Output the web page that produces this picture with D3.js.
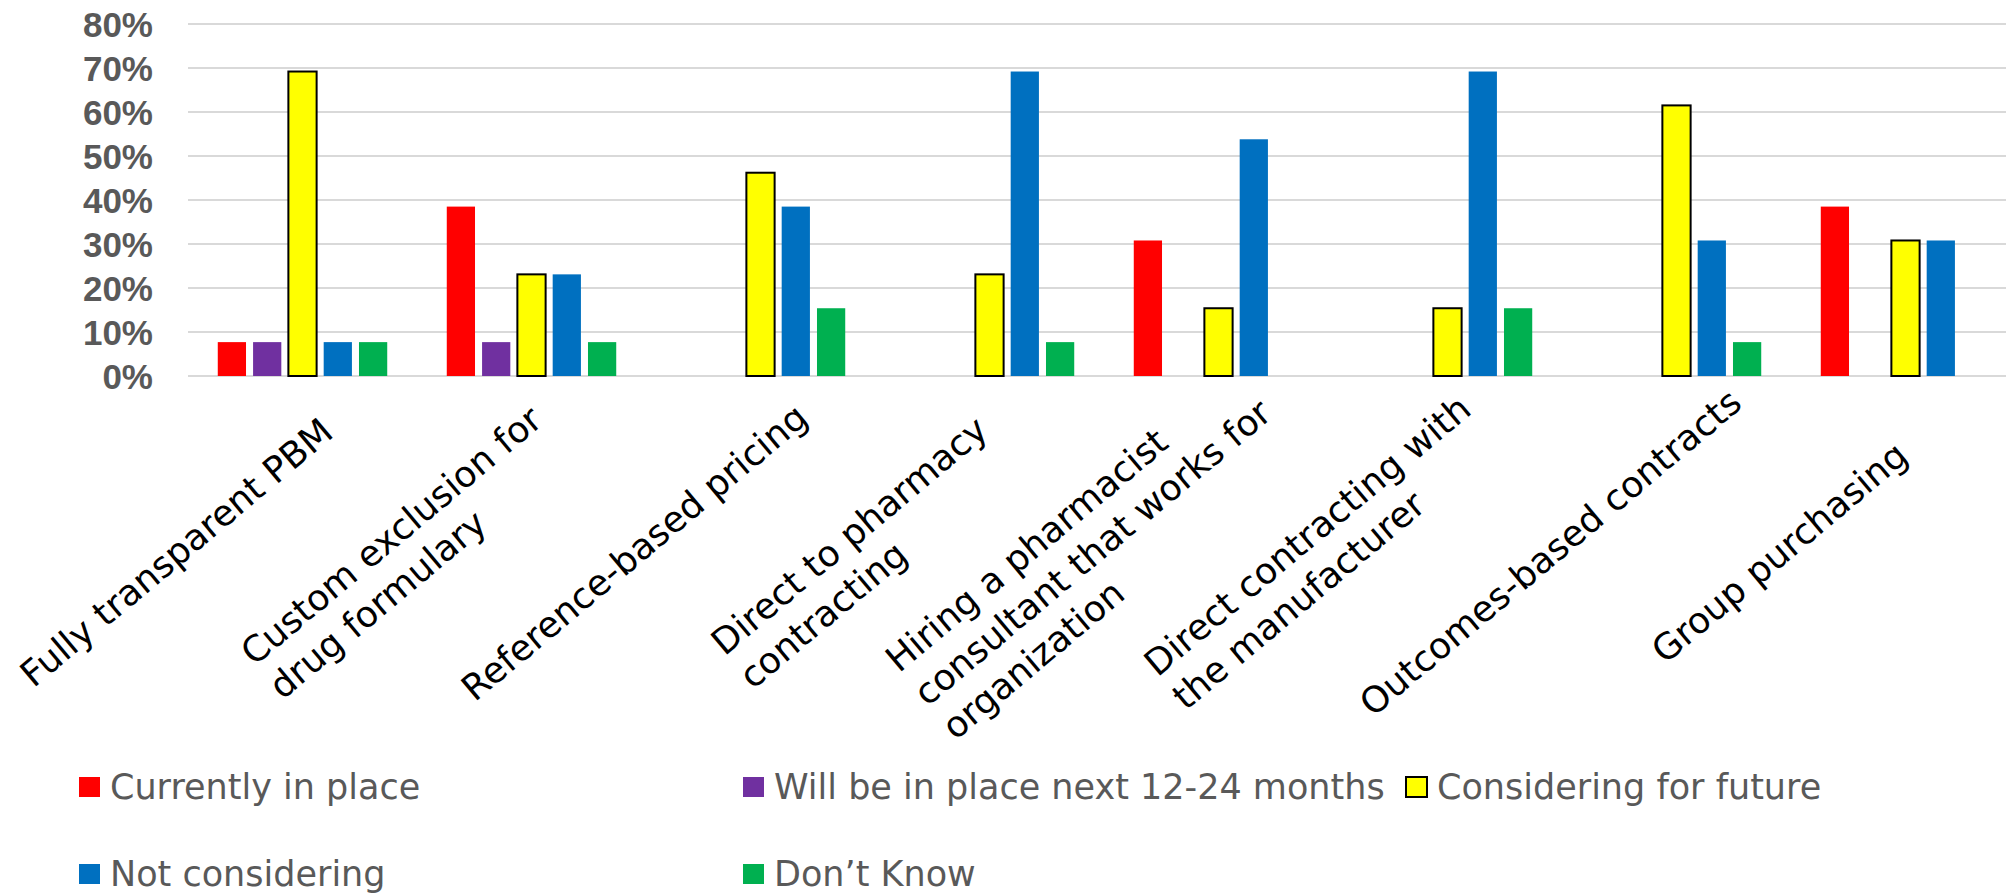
<!DOCTYPE html>
<html>
<head>
<meta charset="utf-8">
<script src="https://cdn.jsdelivr.net/npm/d3@7"></script>
<style>
  html, body { margin: 0; padding: 0; background: #fff; }
  svg { display: block; }
</style>
</head>
<body>
<svg id="chart" width="2006" height="894"></svg>
<script>
// ---------------- DATA ----------------
const categories = [
  ["Fully transparent PBM"],
  ["Custom exclusion for", "drug formulary"],
  ["Reference-based pricing"],
  ["Direct to pharmacy", "contracting"],
  ["Hiring a pharmacist", "consultant that works for", "organization"],
  ["Direct contracting with", "the manufacturer"],
  ["Outcomes-based contracts"],
  ["Group purchasing"]
];
const seriesNames = ["Currently in place", "Will be in place next 12-24 months", "Considering for future", "Not considering", "Don\u2019t Know"];
const seriesColors = ["#FF0000", "#7030A0", "#FFFF00", "#0070C0", "#00B050"];
const currentlyInPlace     = [7.7, 38.5, 0,    0,    30.8, 0,    0,    38.5];
const willBeInPlace        = [7.7, 7.7,  0,    0,    0,    0,    0,    0];
const consideringForFuture = [69.2, 23.1, 46.2, 23.1, 15.4, 15.4, 61.5, 30.8];
const notConsidering       = [7.7, 23.1, 38.5, 69.2, 53.8, 69.2, 30.8, 30.8];
const dontKnow             = [7.7, 7.7,  15.4, 7.7,  0,    15.4, 7.7,  0];
const seriesValues = [currentlyInPlace, willBeInPlace, consideringForFuture, notConsidering, dontKnow];
const yTicks = [0, 10, 20, 30, 40, 50, 60, 70, 80];

// ---------------- LAYOUT ----------------
const svg = d3.select("#chart");
const plot = { left: 188, right: 2020, top: 24, bottom: 376 };
const catIdx = d3.range(categories.length);

const x0 = d3.scaleBand().domain(catIdx).range([plot.left, plot.right])
  .paddingInner(0.26).paddingOuter(0.13);
const x1 = d3.scaleBand().domain(d3.range(seriesNames.length)).range([0, x0.bandwidth()])
  .paddingInner(0.2).paddingOuter(0);
const y = d3.scaleLinear().domain([0, 80]).range([plot.bottom, plot.top]);

// gridlines
svg.append("g").selectAll("line").data(yTicks).join("line")
  .attr("x1", plot.left).attr("x2", plot.right)
  .attr("y1", d => y(d)).attr("y2", d => y(d))
  .attr("stroke", "#D9D9D9").attr("stroke-width", 2);

// y axis labels
const yAxis = d3.axisLeft(y).tickValues(yTicks).tickFormat(d => d + "%").tickSize(0).tickPadding(0);
const yg = svg.append("g").attr("transform", `translate(${plot.left - 35},0)`).call(yAxis);
yg.select(".domain").remove();
yg.selectAll("text")
  .attr("font-family", "'Liberation Sans', Arial, sans-serif")
  .attr("font-weight", "bold").attr("font-size", 35).attr("fill", "#595959")
  .attr("dy", "0.36em");

// bars
const groups = svg.append("g").selectAll("g").data(catIdx).join("g")
  .attr("transform", i => `translate(${x0(i)},0)`);
groups.selectAll("rect")
  .data(i => seriesValues.map((vals, s) => ({ s, v: vals[i] })))
  .join("rect")
  .attr("x", d => x1(d.s))
  .attr("width", x1.bandwidth())
  .attr("y", d => y(d.v))
  .attr("height", d => y(0) - y(d.v))
  .attr("fill", d => seriesColors[d.s])
  .attr("stroke", d => d.s === 2 ? "#000" : "none")
  .attr("stroke-width", d => d.s === 2 ? 2 : 0)
  .attr("display", d => d.v > 0 ? null : "none");

// x labels (rotated, multi-line, block centred)
const labelFont = "'DejaVu Sans', sans-serif";
const labelSize = 36, lineH = 44, angle = -40, uCenter = -210, vCenter = 54;
const lab = svg.append("g").selectAll("g").data(catIdx).join("g")
  .attr("transform", i => `translate(${x0(i) + x0.bandwidth() / 2},${plot.bottom}) rotate(${angle})`);
lab.each(function(i) {
  const g = d3.select(this);
  const lines = categories[i];
  const n = lines.length;
  const texts = g.selectAll("text").data(lines).join("text")
    .attr("font-family", labelFont).attr("font-size", labelSize).attr("fill", "#000")
    .attr("y", (d, k) => vCenter + (k - (n - 1) / 2) * lineH)
    .attr("dy", "0.35em")
    .text(d => d);
  let w = 0;
  texts.each(function() { w = Math.max(w, this.getComputedTextLength()); });
  texts.attr("x", uCenter - w / 2);
});

// legend
const legCols = [79, 743, 1406, 79, 743];
const legRows = [787, 787, 787, 874, 874];
const leg = svg.append("g").selectAll("g").data(seriesNames).join("g")
  .attr("transform", (d, k) => `translate(${legCols[k]},${legRows[k]})`);
leg.append("rect")
  .attr("x", 0).attr("y", -10).attr("width", 21).attr("height", 20)
  .attr("fill", (d, k) => seriesColors[k])
  .attr("stroke", (d, k) => k === 2 ? "#000" : "none")
  .attr("stroke-width", 2);
leg.append("text")
  .attr("x", 31).attr("y", 12)
  .attr("font-family", labelFont).attr("font-size", 35).attr("fill", "#595959")
  .text(d => d);
</script>
</body>
</html>
